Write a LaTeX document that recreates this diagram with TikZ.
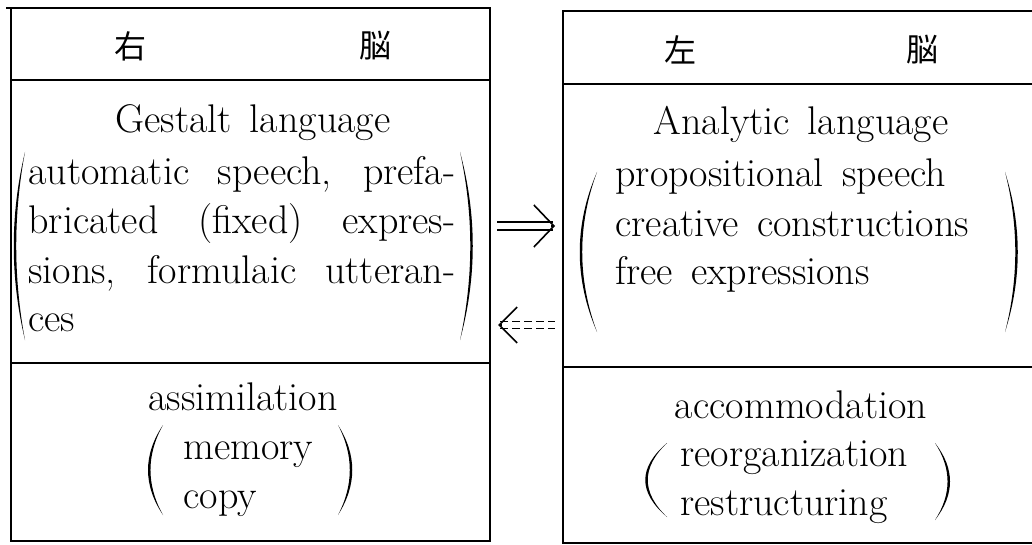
\documentclass[tikz,border=0pt]{standalone}
\usepackage{fontspec}
\setmainfont{Latin Modern Roman}[WordSpace=1.5]
\newfontfamily\cjk{Noto Sans CJK JP}
\usetikzlibrary{arrows.meta,positioning,calc}
\tikzset{
  frame/.style={line width=1pt},
  rule/.style={line width=0.75pt},
  txt/.style={font=\fontsize{20}{24.5}\selectfont, inner sep=0pt},
  list/.style={txt, align=left, anchor=base west},
  head/.style={font=\fontsize{16}{16}\cjk, inner sep=0pt},
  shaft/.style={double, double distance=3.3pt, line width=0.7pt},
  dashshaft/.style={shaft, line width=0.6pt, double distance=3pt, dash pattern=on 4pt off 2pt},
  barb/.style={line width=0.8pt, -{Straight Barb[length=10pt, width=21pt]}},
}
% crescent-shaped bracket: x, top y, bottom y, bulge
\newcommand{\bowpar}[4]{%
  \fill ({#1},{#2}) .. controls ({#1+#4},{(2*#2+#3)/3}) and ({#1+#4},{(#2+2*#3)/3}) .. ({#1},{#3})
    .. controls ({#1+#4-3.3*sign(#4)},{(#2+2*#3)/3}) and ({#1+#4-3.3*sign(#4)},{(2*#2+#3)/3}) .. ({#1},{#2}) -- cycle;}

\begin{document}
\begin{tikzpicture}[x=0.5pt, y=-0.5pt]
  \useasboundingbox (0,0) rectangle (1032,545);

  % right brain panel
  \draw[frame] (6,8) -- (490,8) -- (490,541) -- (11,541) -- (11,8);
  \draw[rule] (11,80) -- (490,80);
  \draw[rule] (11,363) -- (490,363);
  \node[head] (rhead1) at (130,46) {右};
  \node[head] (rhead2) at (375,46) {脳};
  \node[txt, anchor=base] (gestalt) at (253,133) {Gestalt language};
  \node[txt, anchor=base west, text width=213.5pt, align=justify] (gestaltlist) at (28,185)
    {automatic speech, prefa-\linebreak bricated (fixed) expres-\linebreak sions, formulaic utteran-\linebreak ces};
  \bowpar{25}{152}{340}{-15}
  \bowpar{460}{152}{340}{17}
  \node[txt, anchor=base] (assim) at (243,410) {assimilation};
  \node[list] (assimlist) at (183,508) {memory\\copy};
  \bowpar{163}{425}{515}{-20}
  \bowpar{338}{425}{515}{19}

  % left brain panel
  \draw[frame] (1032,11) -- (563,11) -- (563,543) -- (1032,543);
  \draw[rule] (563,84) -- (1032,84);
  \draw[rule] (563,367) -- (1032,367);
  \node[head] (lhead1) at (680,50) {左};
  \node[head] (lhead2) at (922,50) {脳};
  \node[txt, anchor=base] (analytic) at (801,135) {Analytic language};
  \node[list] (analyticlist) at (615,285) {propositional speech\\creative constructions\\free expressions};
  \bowpar{597}{172}{332}{-23}
  \bowpar{1005}{172}{332}{17}
  \node[txt, anchor=base] (accom) at (801,418) {accommodation};
  \node[list] (accomlist) at (680,515) {reorganization\\restructuring};
  \bowpar{667}{443}{517}{-29}
  \bowpar{935}{443}{520}{20}

  % transfer between the hemispheres
  \coordinate (fwdL) at (490,226);
  \coordinate (fwdR) at (563,226);
  \coordinate (backL) at (490,325);
  \coordinate (backR) at (563,325);
  \draw[shaft, shorten <=3.5pt, shorten >=5pt] (fwdL) -- (fwdR);
  \draw[barb, shorten >=4pt] ($(fwdR)+(-12,0)$) -- (fwdR);
  \draw[dashshaft, shorten <=5pt, shorten >=4pt] (backL) -- (backR);
  \draw[barb, -{Straight Barb[length=9pt, width=18pt]}, shorten >=4pt] ($(backL)+(12,0)$) -- (backL);
\end{tikzpicture}
\end{document}
